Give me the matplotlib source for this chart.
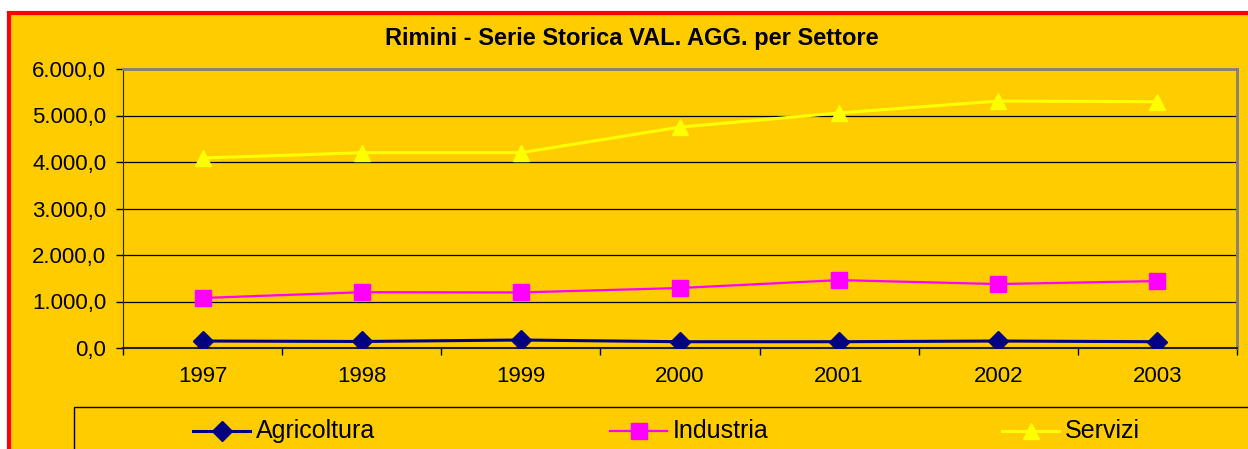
import matplotlib.pyplot as plt
from matplotlib.patches import Rectangle
from matplotlib.lines import Line2D

plt.rcParams['font.family'] = ['Liberation Sans', 'DejaVu Sans']

# data
anni = ["1997", "1998", "1999", "2000", "2001", "2002", "2003"]
agricoltura = [150, 140, 172, 135, 135, 150, 135]
industria = [1075, 1200, 1195, 1290, 1460, 1375, 1440]
servizi = [4085, 4200, 4200, 4750, 5055, 5310, 5295]
y_ticks = [0, 1000, 2000, 3000, 4000, 5000, 6000]
y_labels = ["0,0", "1.000,0", "2.000,0", "3.000,0", "4.000,0", "5.000,0", "6.000,0"]

W, H = 1248, 449
bg = "#FFCC00"

fig = plt.figure(figsize=(W / 100, H / 100), dpi=100)
fig.patch.set_facecolor("white")

# yellow chart area with red border (cropped on right / bottom)
fig.add_artist(Rectangle((9 / W, -0.1), 1.2, (H - 13) / H + 0.1, transform=fig.transFigure,
                         facecolor=bg, edgecolor="#FF0000", linewidth=3, zorder=0))

ax = fig.add_axes([123 / W, (H - 348) / H, (1237 - 123) / W, (348 - 69) / H])
ax.set_facecolor(bg)

x = list(range(len(anni)))
ax.plot(x, agricoltura, color="#000080", linewidth=2.2, marker="D", markersize=10, zorder=5)
ax.plot(x, industria, color="#FF00FF", linewidth=1.6, marker="s", markersize=11.5, zorder=5)
ax.plot(x, servizi, color="#FFFF00", linewidth=2.2, marker="^", markersize=12, zorder=5)

ax.set_xlim(-0.5, len(anni) - 0.5)
ax.set_ylim(0, 6000)
ax.set_yticks(y_ticks)
ax.set_yticklabels(y_labels, fontsize=16)
ax.set_xticks(x)
ax.set_xticklabels(anni, fontsize=16)
ax.set_xticks([i - 0.5 for i in range(len(anni) + 1)], minor=True)
ax.tick_params(axis="x", which="major", length=0, pad=13)
ax.tick_params(axis="x", which="minor", length=5, width=1, direction="out")
ax.tick_params(axis="y", length=5, width=1, direction="out", pad=7)
ax.grid(axis="y", color="black", linewidth=0.9)
ax.set_axisbelow(True)

for s in ["top", "right"]:
    ax.spines[s].set_color("#808080")
    ax.spines[s].set_linewidth(2)
ax.spines["left"].set_color("#222222")
ax.spines["bottom"].set_color("#222222")
ax.spines["bottom"].set_linewidth(1.5)

fig.text(632 / W, 1 - 38 / H, "Rimini - Serie Storica VAL. AGG. per Settore",
         ha="center", va="center", fontsize=17, fontweight="bold")

# legend box
fig.add_artist(Rectangle((74 / W, -0.1), 1.2, (H - 407) / H + 0.1, transform=fig.transFigure,
                         facecolor="none", edgecolor="black", linewidth=1, zorder=1))

legend_items = [
    ("Agricoltura", "#000080", "D", 10, 2.2, 193),
    ("Industria", "#FF00FF", "s", 11.5, 1.6, 610),
    ("Servizi", "#FFFF00", "^", 12, 2.2, 1002),
]
for label, col, mk, ms, lw, xpos in legend_items:
    yl = 1 - 431 / H
    fig.add_artist(Line2D([xpos / W, (xpos + 57) / W], [yl, yl], transform=fig.transFigure,
                          color=col, linewidth=lw))
    fig.add_artist(Line2D([(xpos + 28.5) / W], [yl], transform=fig.transFigure,
                          color=col, marker=mk, markersize=ms, linestyle="none"))
    fig.text((xpos + 63) / W, yl, label, ha="left", va="center", fontsize=18)

plt.savefig("out.png", dpi=100, facecolor=fig.get_facecolor())
